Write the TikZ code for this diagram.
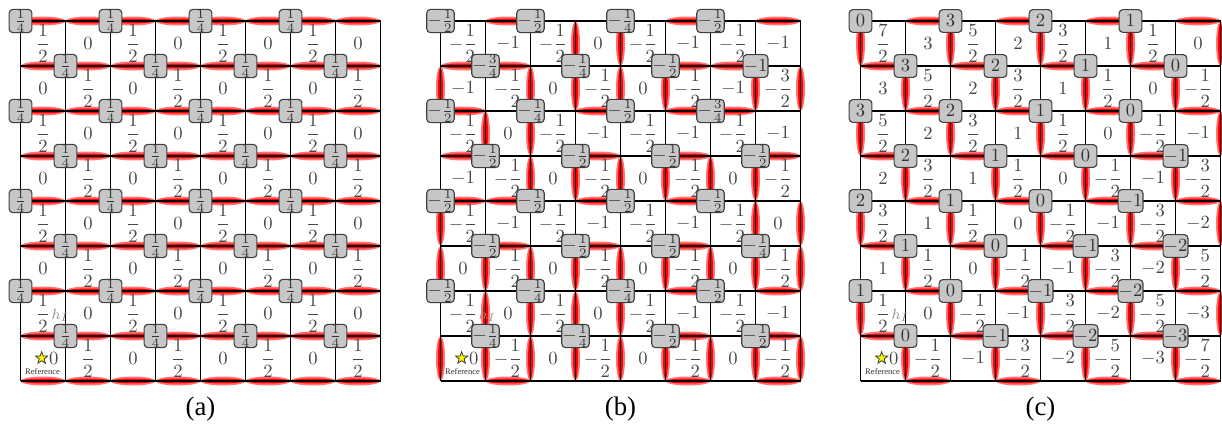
\documentclass[tikz,border=0pt]{standalone}
\usepackage{amsmath}
\usepackage{fontspec}
\setmainfont{Liberation Serif}
\usetikzlibrary{shapes.geometric}

% heights in units of 1/2
\pgfmathdeclarefunction{hA}{2}{\pgfmathparse{1-Mod(#1+#2,2)}}
\def\hgrid{{-1,-2,-1,0,-1,-2,-1,-2,
  -2,-1,0,-1,0,-1,-2,-3,
  -1,0,-1,-2,-1,-2,-1,-2,
  -2,-1,0,-1,0,-1,0,-1,
  -1,-2,-1,-2,-1,-2,-1,0,
  0,-1,0,-1,0,-1,0,-1,
  -1,0,-1,0,-1,-2,-1,-2,
  0,-1,0,-1,0,-1,0,-1}}
\pgfmathdeclarefunction{hB}{2}{\pgfmathparse{\hgrid[int(8*Mod(#1,8)+Mod(#2,8))]}}
\pgfmathdeclarefunction{hC}{2}{\pgfmathparse{7-#1-#2}}

\newcommand\halfval[1]{\ifodd#1\relax
  \ifnum#1<0 -\dfrac{\number\numexpr-#1\relax}{2}\else\dfrac{#1}{2}\fi
  \else\number\numexpr#1/2\relax\fi}

\tikzset{
  cellnum/.style={inner sep=0pt, text=black!72},
  vertexbox/.style={draw=black!75, fill=black!22, rounded corners=2pt, line width=0.6pt,
    minimum size=0.43cm, inner sep=0.3pt, text=black!80},
  dimer/.style={fill=red},
  dimerglow/.style={fill=red!55},
  gridline/.style={line width=0.6pt, step=0.85cm},
  hlabel/.style={inner sep=0pt, text=black!42, font=\footnotesize},
  refstar/.style={star, star points=5, star point ratio=2.4, draw=black!80, fill=yellow,
    line width=0.4pt, minimum size=0.24cm, inner sep=0pt},
  reftext/.style={inner sep=0pt, font=\fontsize{4.6}{5}\selectfont, text=black!80},
  panellabel/.style={font=\Large},
}

% red ellipses on the edges
\newcommand\drawdimers[1]{%
  \foreach \i in {0,...,8}{\foreach \j in {0,...,7}{%
    \pgfmathtruncatemacro\isred{((#1(\i,\j)-#1(\i-1,\j))*(1-2*Mod(\i+\j,2)))>0}%
    \ifnum\isred=1
      \fill[dimerglow] (\j+0.5,8-\i) ellipse [x radius=0.5, y radius=0.1];
      \fill[dimer] (\j+0.5,8-\i) ellipse [x radius=0.46, y radius=0.055];
    \fi}}%
  \foreach \i in {0,...,7}{\foreach \j in {0,...,8}{%
    \pgfmathtruncatemacro\isred{((#1(\i,\j-1)-#1(\i,\j))*(1-2*Mod(\i+\j,2)))>0}%
    \ifnum\isred=1
      \fill[dimerglow] (\j,7.5-\i) ellipse [x radius=0.1, y radius=0.5];
      \fill[dimer] (\j,7.5-\i) ellipse [x radius=0.055, y radius=0.46];
    \fi}}}

% numbers in the cells, reference cell at the bottom left
\newcommand\drawcells[2]{%
  \foreach \i in {0,...,7}{\foreach \j in {0,...,7}{%
    \pgfmathtruncatemacro\hh{#1(\i,\j)}%
    \ifnum\i\j=70 \else
      \node[cellnum] (#2-\i-\j) at (\j+0.5,7.5-\i) {$\halfval{\hh}$};
    \fi}}%
  \node[hlabel, anchor=base west] (#2-hI) at ([xshift=0.5pt]#2-6-0.base east) {$h_I$};
  \node[refstar] (#2-star) at (0.47,0.51) {};
  \node[cellnum] (#2-7-0) at (0.74,0.5) {$0$};
  \node[reftext] (#2-ref) at (0.49,0.22) {Reference};}

\begin{document}
\begin{tikzpicture}[x=0.85cm, y=0.85cm]
\useasboundingbox (-0.456,-0.956) rectangle (26.7,8.467);

% (a)
\begin{scope}
  \drawdimers{hA}
  \draw[gridline] (0,0) grid (8,8);
  \drawcells{hA}{a}
  \foreach \i in {0,...,7}{\foreach \j in {0,...,7}{
    \ifodd\numexpr\i+\j\relax\else
      \node[vertexbox] (a-v-\i-\j) at (\j,8-\i) {$\frac14$};
    \fi}}
  \node[panellabel] (a-label) at (4,-0.62) {(a)};
\end{scope}

% (b)
\begin{scope}[shift={(9.333,0)}]
  \drawdimers{hB}
  \draw[gridline] (0,0) grid (8,8);
  \drawcells{hB}{b}
  \foreach \i/\j/\val in {0/0/-\frac12, 0/2/-\frac12, 0/4/-\frac14, 0/6/-\frac12,
      1/1/-\frac34, 1/3/-\frac14, 1/5/-\frac12, 1/7/-1,
      2/0/-\frac12, 2/2/-\frac14, 2/4/-\frac12, 2/6/-\frac34,
      3/1/-\frac12, 3/3/-\frac12, 3/5/-\frac12, 3/7/-\frac12,
      4/0/-\frac12, 4/2/-\frac12, 4/4/-\frac12, 4/6/-\frac12,
      5/1/-\frac12, 5/3/-\frac12, 5/5/-\frac12, 5/7/-\frac14,
      6/0/-\frac12, 6/2/-\frac14, 6/4/-\frac14, 6/6/-\frac12,
      7/1/-\frac14, 7/3/-\frac14, 7/5/-\frac12, 7/7/-\frac12}
    \node[vertexbox] (b-v-\i-\j) at (\j,8-\i) {$\val$};
  \node[panellabel] (b-label) at (4,-0.62) {(b)};
\end{scope}

% (c)
\begin{scope}[shift={(18.667,0)}]
  \drawdimers{hC}
  \draw[gridline] (0,0) grid (8,8);
  \drawcells{hC}{c}
  \foreach \i in {0,...,7}{\foreach \j in {0,...,7}{
    \ifodd\numexpr\i+\j\relax\else
      \pgfmathtruncatemacro\val{ifthenelse(\i+\j==0,0,4-(\i+\j)/2)}
      \node[vertexbox] (c-v-\i-\j) at (\j,8-\i) {$\val$};
    \fi}}
  \node[panellabel] (c-label) at (4,-0.62) {(c)};
\end{scope}
\end{tikzpicture}
\end{document}
